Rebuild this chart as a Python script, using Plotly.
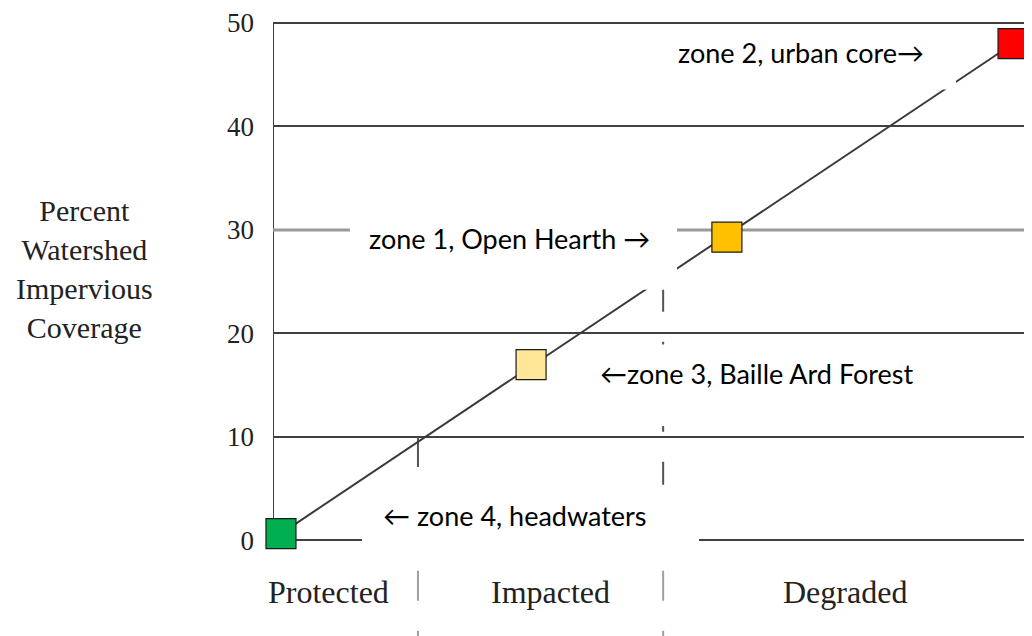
import plotly.graph_objects as go

# ---- data ----
zone_labels = ["← zone 4, headwaters", "←zone 3, Baille Ard Forest",
               "zone 1, Open Hearth →", "zone 2, urban core→"]
zone_x = [1.05, 34.0, 59.8, 97.5]          # position along stream-quality axis
zone_pct = [0.67, 17.0, 29.3, 48.0]        # percent impervious coverage
zone_colors = ["#00B050", "#FFE699", "#FFC000", "#FF0000"]

trend_x = [1.05, 105.0]
trend_y = [0.67, 51.68]

ytick_vals = [0, 10, 20, 30, 40, 50]
categories = ["Protected", "Impacted", "Degraded"]
category_x = [7.3, 36.6, 75.4]
boundary_pct = [10, 25]
boundary_x = [19.1, 51.4]

# label positions (layout)
label_x = [31.9, 63.8, 31.1, 69.6]
label_y = [2.4, 16.15, 29.13, 47.1]
# white boxes behind labels: (x0, x1, y0, y1)
label_boxes = [(11.73, 56.13, -2.69, 5.38),
               (41.8, 86.6, 11.06, 18.94),
               (10.14, 53.23, 24.23, 34.04),
               (50.72, 89.99, 43.56, 49.86)]

# page has an 8px body margin; ranges compensate so the chart lands where intended
Y_MIN, Y_MAX = -10.0, 51.154
X_MAX = 101.05

fig = go.Figure()

fig.add_trace(go.Scatter(x=trend_x, y=trend_y, mode="lines",
                         line=dict(color="#3a3a3a", width=2),
                         hoverinfo="skip", showlegend=False))
fig.add_trace(go.Scatter(x=zone_x, y=zone_pct, mode="markers",
                         marker=dict(symbol="square", size=30, color=zone_colors,
                                     line=dict(color="#1a1a1a", width=1.2)),
                         text=zone_labels, showlegend=False, cliponaxis=False))

shapes = []
# left axis line 0..50
shapes.append(dict(type="line", xref="x", yref="y", x0=0, x1=0, y0=0, y1=50,
                   line=dict(color="#404040", width=2), layer="between"))
# lighter 30 line
shapes.append(dict(type="line", xref="x", yref="y", x0=0, x1=X_MAX, y0=30, y1=30,
                   line=dict(color="#9a9a9a", width=3), layer="between"))
# dashed category boundaries
for bx, bp in zip(boundary_x, boundary_pct):
    shapes.append(dict(type="line", xref="x", yref="y", x0=bx, x1=bx, y0=bp, y1=0,
                       line=dict(color="#555555", width=2, dash="30px,30px"),
                       layer="between"))
    shapes.append(dict(type="line", xref="x", yref="y", x0=bx, x1=bx, y0=2.885, y1=Y_MIN,
                       line=dict(color="#a0a0a0", width=2, dash="30px,30px"),
                       layer="between"))
# white label boxes
for (x0, x1, y0, y1) in label_boxes:
    shapes.append(dict(type="rect", xref="x", yref="y", x0=x0, x1=x1, y0=y0, y1=y1,
                       fillcolor="white", line=dict(width=0), layer="above"))

annotations = []
for t, x, y in zip(zone_labels, label_x, label_y):
    annotations.append(dict(text=t, x=x, y=y, xref="x", yref="y", showarrow=False,
                            font=dict(family="Lato, DejaVu Sans", size=27, color="#000000"),
                            xanchor="center", yanchor="middle"))
for c, x in zip(categories, category_x):
    annotations.append(dict(text=c, x=x, y=-5.0, xref="x", yref="y", showarrow=False,
                            font=dict(family="Liberation Serif", size=32, color="#222222"),
                            xanchor="center", yanchor="middle"))
annotations.append(dict(text="Percent<br>Watershed<br>Impervious<br>Coverage",
                        x=(84 - 273) / 767, y=(644 - 267) / 636, xref="paper", yref="paper",
                        showarrow=False, align="center",
                        font=dict(family="Liberation Serif", size=30, color="#222222"),
                        xanchor="center", yanchor="middle"))

fig.update_layout(
    width=1032, height=636,
    margin=dict(l=265, r=0, t=0, b=0),
    paper_bgcolor="white", plot_bgcolor="white",
    shapes=shapes, annotations=annotations,
    xaxis=dict(range=[0, X_MAX], visible=False, showgrid=False, zeroline=False),
    yaxis=dict(range=[Y_MIN, Y_MAX], tickvals=ytick_vals, ticks="",
               showgrid=True, gridcolor="#404040", gridwidth=2, zeroline=False,
               showline=False, ticklabelstandoff=18, ticklabeloverflow="allow",
               tickfont=dict(family="Liberation Serif", size=27, color="#222222")),
)

fig.write_html("out.html")
